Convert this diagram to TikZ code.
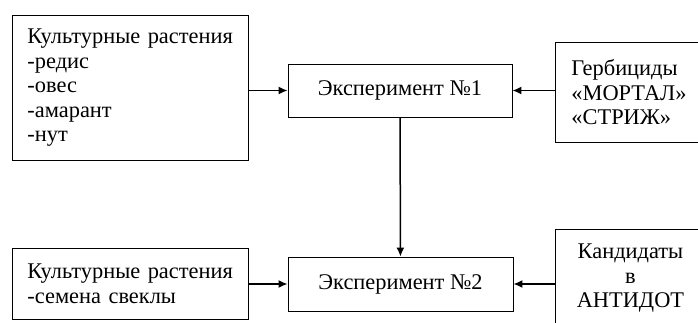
\documentclass[tikz,border=0pt]{standalone}
\usepackage{fontspec}
\setmainfont{Liberation Serif}
\newfontfamily\timesfont{Liberation Serif}
\usetikzlibrary{arrows.meta}

\tikzset{
	block/.style={draw, line width=0.9pt, inner xsep=15pt, font=\timesfont\fontsize{22.4}{24.5}\selectfont},
	arr/.style={-{Latex[length=9pt,width=8pt]}, line width=1.5pt},
}

\begin{document}
\begin{tikzpicture}[x=1pt,y=1pt]
	\useasboundingbox (0,0) rectangle (698,322);
	\node[block, anchor=north west, text width=206pt, minimum height=145pt, align=left] (plants1) at (12,307) {Культурные растения\\-редис\\-овес\\-амарант\\-нут};
	\node[block, minimum width=224pt, minimum height=53pt] (exp1) at (400,231.5) {Эксперимент №1};
	\node[block, anchor=north west, inner xsep=16pt, text width=123pt, minimum height=100pt, align=left] (herb) at (555,280) {Гербициды\\«МОРТАЛ»\\«СТРИЖ»};
	\node[block, anchor=north west, text width=206pt, minimum height=71pt, align=left] (plants2) at (12,74) {Культурные растения\\-семена свеклы};
	\node[block, minimum width=225pt, minimum height=54pt] (exp2) at (400.5,38) {Эксперимент №2};
	\node[block, anchor=north west, text width=120pt, minimum height=98pt, align=center] (cand) at (555,93) {Кандидаты\\в\\АНТИДОТ};
	\draw[arr] (plants1.east |- exp1) -- (exp1);
	\draw[arr] (herb.west |- exp1) -- (exp1);
	\draw[arr] (exp1) -- (exp2);
	\draw[arr] (plants2.east |- exp2) -- (exp2);
	\draw[arr] (cand.west |- exp2) -- (exp2);
\end{tikzpicture}
\end{document}
